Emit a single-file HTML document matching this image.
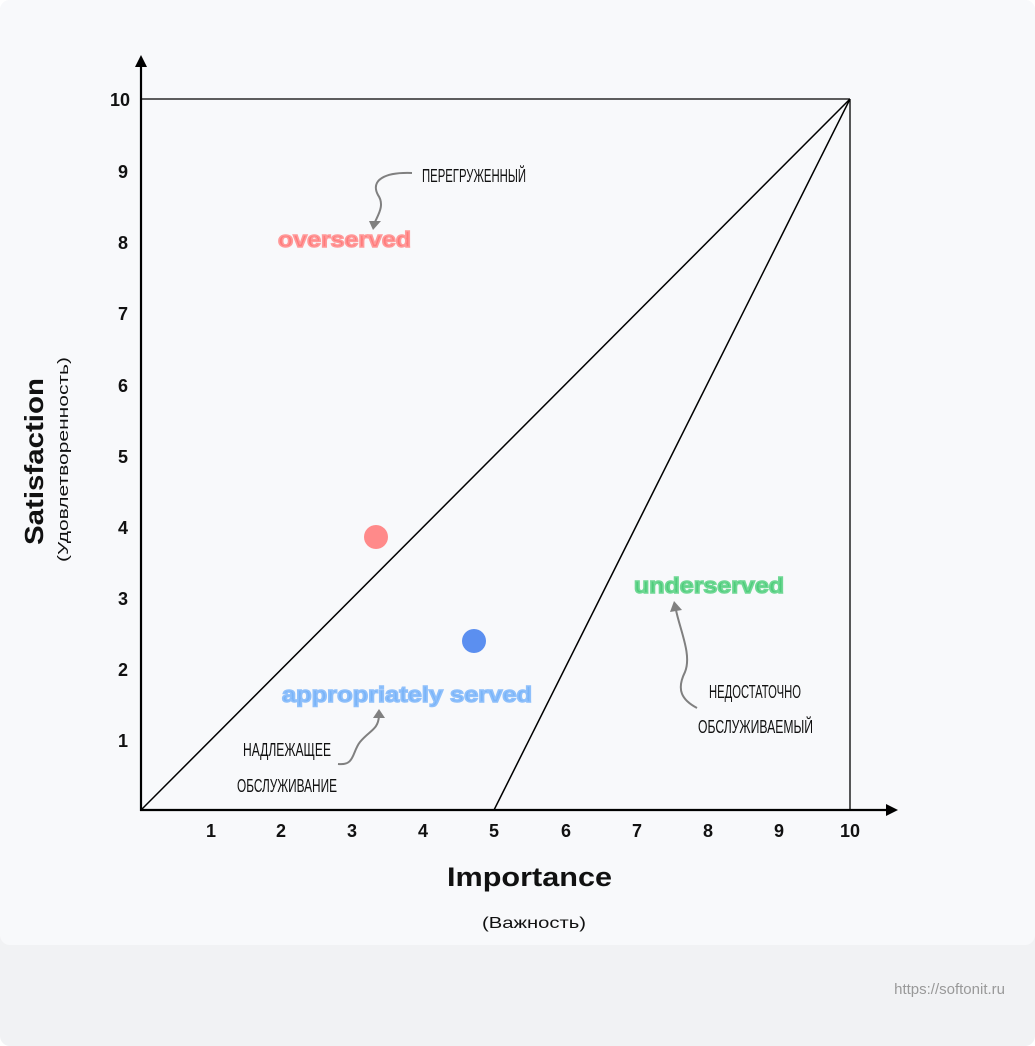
<!DOCTYPE html>
<html><head><meta charset="utf-8"><style>
html,body{margin:0;padding:0;background:#f1f2f4;}
</style></head><body>
<svg width="1035" height="1046" viewBox="0 0 1035 1046" xmlns="http://www.w3.org/2000/svg" style="display:block">
<rect x="0" y="0" width="1035" height="1046" fill="#ffffff"/>
<rect x="0" y="0" width="1035" height="1046" rx="10" fill="#f1f2f4"/>
<rect x="0" y="0" width="1035" height="945" rx="10" fill="#f8f9fb"/>
<g stroke="#000" fill="none">
<line x1="141" y1="62" x2="141" y2="811" stroke-width="2.2"/>
<line x1="140" y1="810" x2="890" y2="810" stroke-width="2.2"/>
<line x1="141" y1="99" x2="850" y2="99" stroke-width="1.3"/>
<line x1="850" y1="99" x2="850" y2="810" stroke-width="1.3"/>
<line x1="141" y1="810" x2="850" y2="99" stroke-width="1.5"/>
<line x1="494" y1="810" x2="850" y2="99" stroke-width="1.5"/>
</g>
<polygon points="141,55 135,67 147,67" fill="#000"/>
<polygon points="898,810 886,804 886,816" fill="#000"/>
<g font-family="Liberation Sans, sans-serif" font-weight="bold" font-size="18" fill="#111" text-anchor="middle">
<text x="211" y="837">1</text><text x="281" y="837">2</text><text x="352" y="837">3</text><text x="423" y="837">4</text><text x="494" y="837">5</text><text x="566" y="837">6</text><text x="637" y="837">7</text><text x="708" y="837">8</text><text x="779" y="837">9</text><text x="850" y="837">10</text>
<g text-anchor="end">
<text x="128" y="747">1</text><text x="128" y="676">2</text><text x="128" y="605">3</text><text x="128" y="534">4</text><text x="128" y="463">5</text><text x="128" y="392">6</text><text x="128" y="320">7</text><text x="128" y="249">8</text><text x="128" y="178">9</text><text x="130" y="106">10</text>
</g>
<text x="447" y="886" font-size="27" text-anchor="start" textLength="165" lengthAdjust="spacingAndGlyphs">Importance</text>
<text x="482" y="928" font-size="16" font-weight="normal" text-anchor="start" textLength="104" lengthAdjust="spacingAndGlyphs">(Важность)</text>
<text transform="translate(43,545) rotate(-90)" font-size="26" text-anchor="start" textLength="167" lengthAdjust="spacingAndGlyphs">Satisfaction</text>
<text transform="translate(68,562) rotate(-90)" font-size="15" font-weight="normal" text-anchor="start" textLength="205" lengthAdjust="spacingAndGlyphs">(Удовлетворенность)</text>
</g>
<circle cx="376" cy="537" r="12" fill="#ff8a8a"/>
<circle cx="474" cy="641" r="12" fill="#5b8ff0"/>
<g font-family="Liberation Sans, sans-serif" font-weight="bold" font-size="22">
<text x="278" y="247" fill="#ff7b7b" stroke="#ff9a9a" stroke-width="1.5" textLength="133" lengthAdjust="spacingAndGlyphs">overserved</text>
<text x="282" y="702" fill="#7ab4f8" stroke="#8fc0fb" stroke-width="1.5" textLength="250" lengthAdjust="spacingAndGlyphs">appropriately served</text>
<text x="634" y="593" fill="#4fcc7c" stroke="#6fd894" stroke-width="1.5" textLength="150" lengthAdjust="spacingAndGlyphs">underserved</text>
</g>
<g font-family="Liberation Sans Narrow, Liberation Sans, sans-serif" font-size="18" fill="#111">
<text x="422" y="182" textLength="104" lengthAdjust="spacingAndGlyphs">ПЕРЕГРУЖЕННЫЙ</text>
<text x="243" y="756" textLength="88" lengthAdjust="spacingAndGlyphs">НАДЛЕЖАЩЕЕ</text>
<text x="237" y="792" textLength="100" lengthAdjust="spacingAndGlyphs">ОБСЛУЖИВАНИЕ</text>
<text x="709" y="698" textLength="92" lengthAdjust="spacingAndGlyphs">НЕДОСТАТОЧНО</text>
<text x="698" y="733" textLength="115" lengthAdjust="spacingAndGlyphs">ОБСЛУЖИВАЕМЫЙ</text>
</g>
<g stroke="#808080" stroke-width="2" fill="none">
<path d="M412,173 C385,172 370,180 378,195 C385,205 378,215 375,222"/>
<path d="M338,764 C355,766 352,752 360,742 C370,730 378,730 379,716"/>
<path d="M697,708 C682,700 676,690 685,672 C692,655 680,630 676,610"/>
</g>
<g fill="#808080">
<polygon points="369,221 381,221 373,230"/>
<polygon points="373,718 385,718 379,709"/>
<polygon points="670,612 682,610 674,601"/>
</g>
<text x="1005" y="994" text-anchor="end" font-family="Liberation Sans, sans-serif" font-size="15" fill="#999">https://softonit.ru</text>
</svg>
</body></html>
